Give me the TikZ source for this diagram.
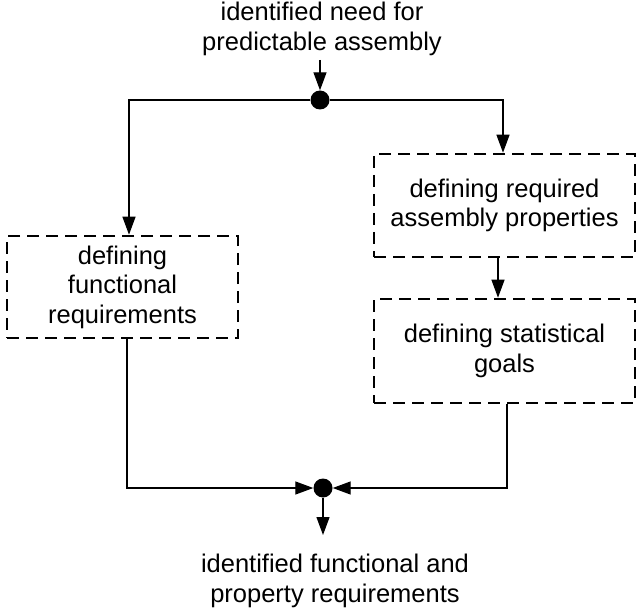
\documentclass[tikz,border=0pt]{standalone}
\usepackage{fontspec}
\setmainfont{Liberation Sans}
\usetikzlibrary{arrows.meta}
\begin{document}
\begin{tikzpicture}[x=1pt,y=-1pt,
  txt/.style={align=center,inner sep=0pt,font=\fontsize{25.5}{29.5}\selectfont},
  stepbox/.style={draw,line width=2.6pt,dash pattern=on 12pt off 7pt,rectangle,inner sep=0pt,align=center,font=\fontsize{25.5}{29.5}\selectfont},
  dotnode/.style={circle,fill=black,inner sep=0pt,minimum size=19pt},
  arr/.style={line width=1.3pt,-{Triangle[length=18pt,width=13pt]}}]
\useasboundingbox (0,0) rectangle (639,612);
\node[txt] (topt) at (322,28.7) {identified need for\\predictable assembly};
\node[dotnode] (dot1) at (320,100) {};
\coordinate (c1) at (320,60);
\node[stepbox,minimum width=231pt,minimum height=102pt] (lbox) at (122.5,287) {defining\\functional\\requirements};
\node[stepbox,minimum width=261pt,minimum height=103pt] (rbox1) at (504.5,205.5) {defining required\\assembly properties};
\node[stepbox,minimum width=261pt,minimum height=104pt] (rbox2) at (504.5,351) {defining statistical\\goals};
\node[dotnode] (dot2) at (323,488) {};
\coordinate (c2) at (323,535);
\node[txt] (bott) at (335,581) {identified functional and\\property requirements};
\draw[arr] (c1) -- (dot1);
\draw[arr] (dot1) -| ([xshift=6.5pt]lbox.north);
\draw[arr] (dot1) -| ([xshift=-1.5pt]rbox1.north);
\draw[arr] ([xshift=-6.5pt]rbox1.south) -- ([xshift=-6.5pt]rbox2.north);
\draw[arr] ([xshift=4.5pt]lbox.south) |- (dot2);
\draw[arr] ([xshift=2.5pt]rbox2.south) |- (dot2);
\draw[arr] (dot2) -- (c2);
\end{tikzpicture}
\end{document}
